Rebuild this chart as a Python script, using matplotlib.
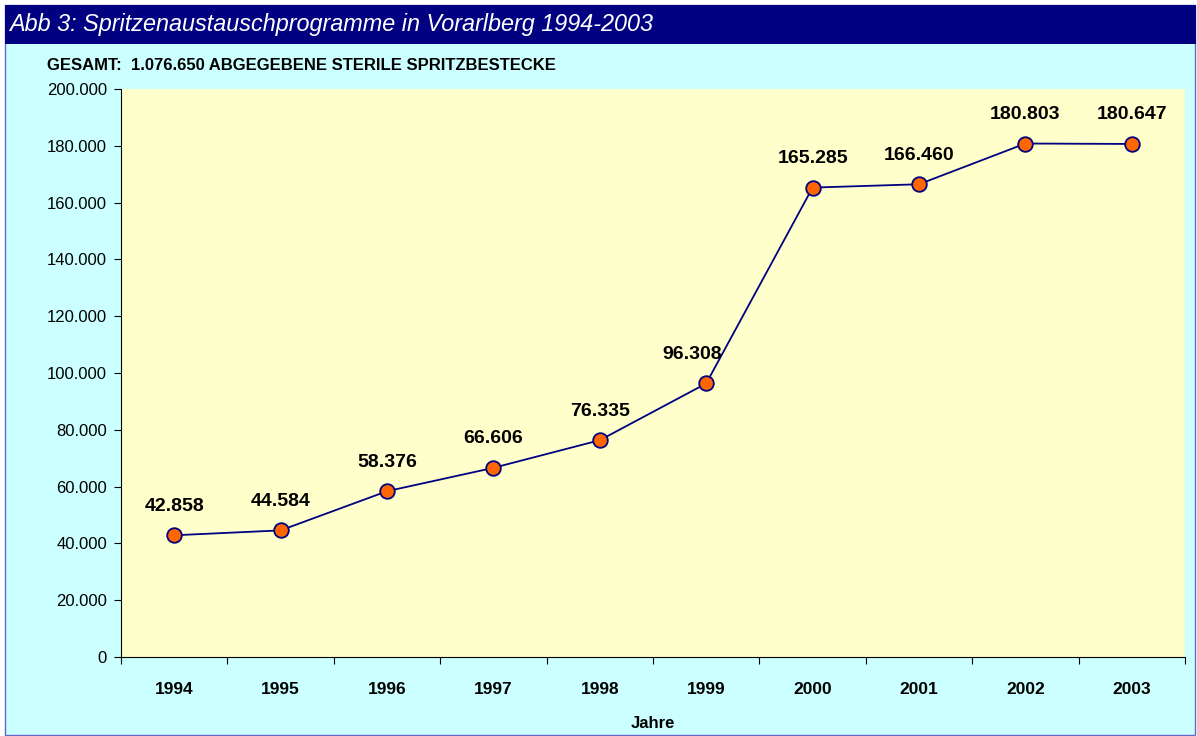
import matplotlib
matplotlib.use("Agg")
import matplotlib.pyplot as plt
from matplotlib.patches import Rectangle
from matplotlib.ticker import FixedLocator, FuncFormatter

years = ["1994", "1995", "1996", "1997", "1998", "1999", "2000", "2001", "2002", "2003"]
values = [42858, 44584, 58376, 66606, 76335, 96308, 165285, 166460, 180803, 180647]
title = "Abb 3: Spritzenaustauschprogramme in Vorarlberg 1994-2003"
subtitle = "GESAMT:  1.076.650 ABGEGEBENE STERILE SPRITZBESTECKE"
xlabel = "Jahre"

W, H = 1197, 736
fig = plt.figure(figsize=(W / 100, H / 100), dpi=100)
fig.patch.set_facecolor("white")

def fx(px):
    return px / W

def fy(py):
    return 1 - py / H

# outer light-cyan panel with border
fig.patches.append(Rectangle((fx(5), fy(735)), fx(1195) - fx(5), fy(5) - fy(735),
                             transform=fig.transFigure, facecolor="#CCFFFF",
                             edgecolor="#6666CC", linewidth=1.0, zorder=-2))
# title bar
fig.patches.append(Rectangle((fx(5), fy(44)), fx(1196) - fx(5), fy(5) - fy(44),
                             transform=fig.transFigure, facecolor="#000080",
                             edgecolor="none", zorder=-1))
fig.text(fx(9), fy(25), title, color="white", fontsize=16.8, style="italic",
         family="Liberation Sans", va="center", ha="left")
fig.text(fx(47), fy(65), subtitle, color="black", fontsize=12, weight="bold",
         family="Liberation Sans", va="center", ha="left")

ax = fig.add_axes([fx(121), fy(657), fx(1185) - fx(121), fy(89) - fy(657)])
ax.set_zorder(2)
ax.set_facecolor("#FFFFCC")
x = list(range(len(years)))
ax.plot(x, values, color="#000080", linewidth=1.3, marker="o", markersize=10.5,
        markerfacecolor="#FF6600", markeredgecolor="#000080", markeredgewidth=1.3,
        zorder=3, clip_on=False)
label_dx = {5: -14}
for xi, v in zip(x, values):
    lab = f"{v:,}".replace(",", ".")
    ax.annotate(lab, (xi, v), xytext=(label_dx.get(xi, 0), 29), textcoords="offset pixels",
                ha="center", va="center", fontsize=14, weight="bold",
                family="Liberation Sans", color="black")

ax.set_xlim(-0.5, len(years) - 0.5)
ax.set_ylim(0, 200000)
ax.spines["top"].set_visible(False)
ax.spines["right"].set_visible(False)
ax.spines["left"].set_color("black")
ax.spines["bottom"].set_color("black")

ax.yaxis.set_major_locator(FixedLocator(list(range(0, 200001, 20000))))
ax.yaxis.set_major_formatter(FuncFormatter(lambda v, p: f"{int(v):,}".replace(",", ".")))
ax.tick_params(axis="y", direction="out", length=5, labelsize=12, pad=5)
for t in ax.get_yticklabels():
    t.set_family("Liberation Sans")

ax.set_xticks([i - 0.5 for i in range(len(years) + 1)])
ax.set_xticklabels([])
ax.tick_params(axis="x", direction="out", length=5)
ax.set_xticks(x, minor=True)
ax.set_xticklabels(years, minor=True, fontsize=12.5, weight="bold", family="Liberation Sans")
ax.tick_params(axis="x", which="minor", length=0, pad=18)

ax.set_xlabel(xlabel, fontsize=12, weight="bold", family="Liberation Sans", labelpad=14)

fig.savefig("out.png", dpi=100, facecolor=fig.get_facecolor())
